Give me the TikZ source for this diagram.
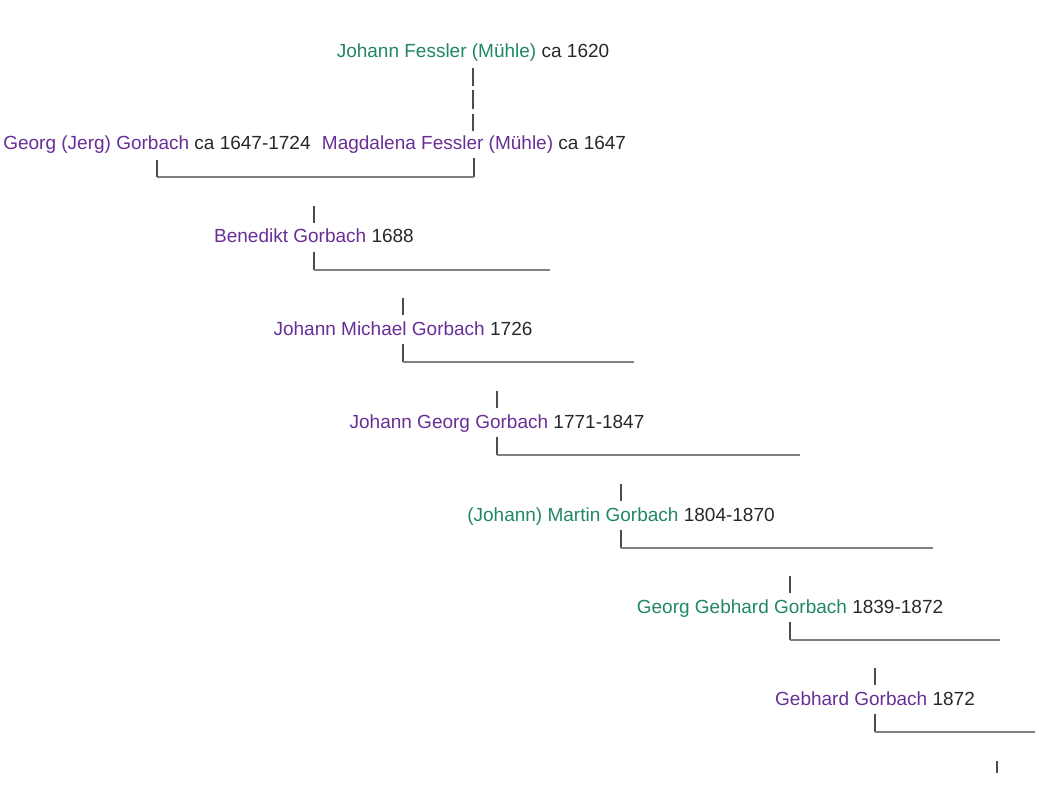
\documentclass[tikz,border=0pt]{standalone}
\usepackage{fontspec}
\setmainfont{Liberation Sans}
\definecolor{namegreen}{RGB}{32,134,104}
\definecolor{namepurple}{RGB}{104,46,150}
\definecolor{datetext}{RGB}{40,40,40}

\begin{document}
\begin{tikzpicture}[x=1pt,y=-1pt,
        person/.style={anchor=base,inner sep=0pt,text=datetext,
            font=\fontsize{19}{23}\selectfont},
        tick/.style={draw=black!70,line width=1.4pt},
        link/.style={draw=black!50,line width=1.3pt}
    ]
    \useasboundingbox (0,0) rectangle (1039,786);

    \node[person] (johann) at (473,58) {\textcolor{namegreen}{Johann Fessler (Mühle)} ca 1620};
    \node[person] (georg) at (157,150) {\textcolor{namepurple}{Georg (Jerg) Gorbach} ca 1647-1724};
    \node[person] (magdalena) at (474,150) {\textcolor{namepurple}{Magdalena Fessler (Mühle)} ca 1647};
    \node[person] (benedikt) at (314,243) {\textcolor{namepurple}{Benedikt Gorbach} 1688};
    \node[person] (michael) at (403,335) {\textcolor{namepurple}{Johann Michael Gorbach} 1726};
    \node[person] (jgeorg) at (497,428) {\textcolor{namepurple}{Johann Georg Gorbach} 1771-1847};
    \node[person] (martin) at (621,521) {\textcolor{namegreen}{(Johann) Martin Gorbach} 1804-1870};
    \node[person] (gebhardg) at (790,613) {\textcolor{namegreen}{Georg Gebhard Gorbach} 1839-1872};
    \node[person] (gebhard) at (875,705) {\textcolor{namepurple}{Gebhard Gorbach} 1872};

    % Johann Fessler down to his daughter
    \foreach \a/\b in {10/28,32/51,56/73}
        \draw[tick] ([yshift=-\a pt]johann.base) -- ([yshift=-\b pt]johann.base);

    % the couple
    \draw[tick] ([yshift=-8pt]magdalena.base) -- ([yshift=-27pt]magdalena.base) coordinate (magdalena-foot);
    \draw[link] (magdalena-foot) -- (magdalena-foot -| georg.base);
    \draw[tick] ([yshift=-10pt]georg.base) -- ([yshift=-27pt]georg.base);

    % one generation after another
    \coordinate (benedikt-end) at (550,270);
    \coordinate (michael-end) at (634,362);
    \coordinate (jgeorg-end) at (800,455);
    \coordinate (martin-end) at (933,547);
    \coordinate (gebhardg-end) at (1000,639);
    \coordinate (gebhard-end) at (1035,732);
    \foreach \p in {benedikt,michael,jgeorg,martin,gebhardg,gebhard} {
        \draw[tick] ([yshift=20pt]\p.base) -- ([yshift=37pt]\p.base);
        \draw[tick] ([yshift=-9pt]\p.base) -- ([yshift=-27pt]\p.base) coordinate (\p-foot);
        \draw[link] (\p-foot) -- (\p-foot -| \p-end);
    }

    \coordinate (last-top) at (997,761);
    \coordinate (last-bottom) at (997,773);
    \draw[tick] (last-top) -- (last-bottom);
\end{tikzpicture}
\end{document}
